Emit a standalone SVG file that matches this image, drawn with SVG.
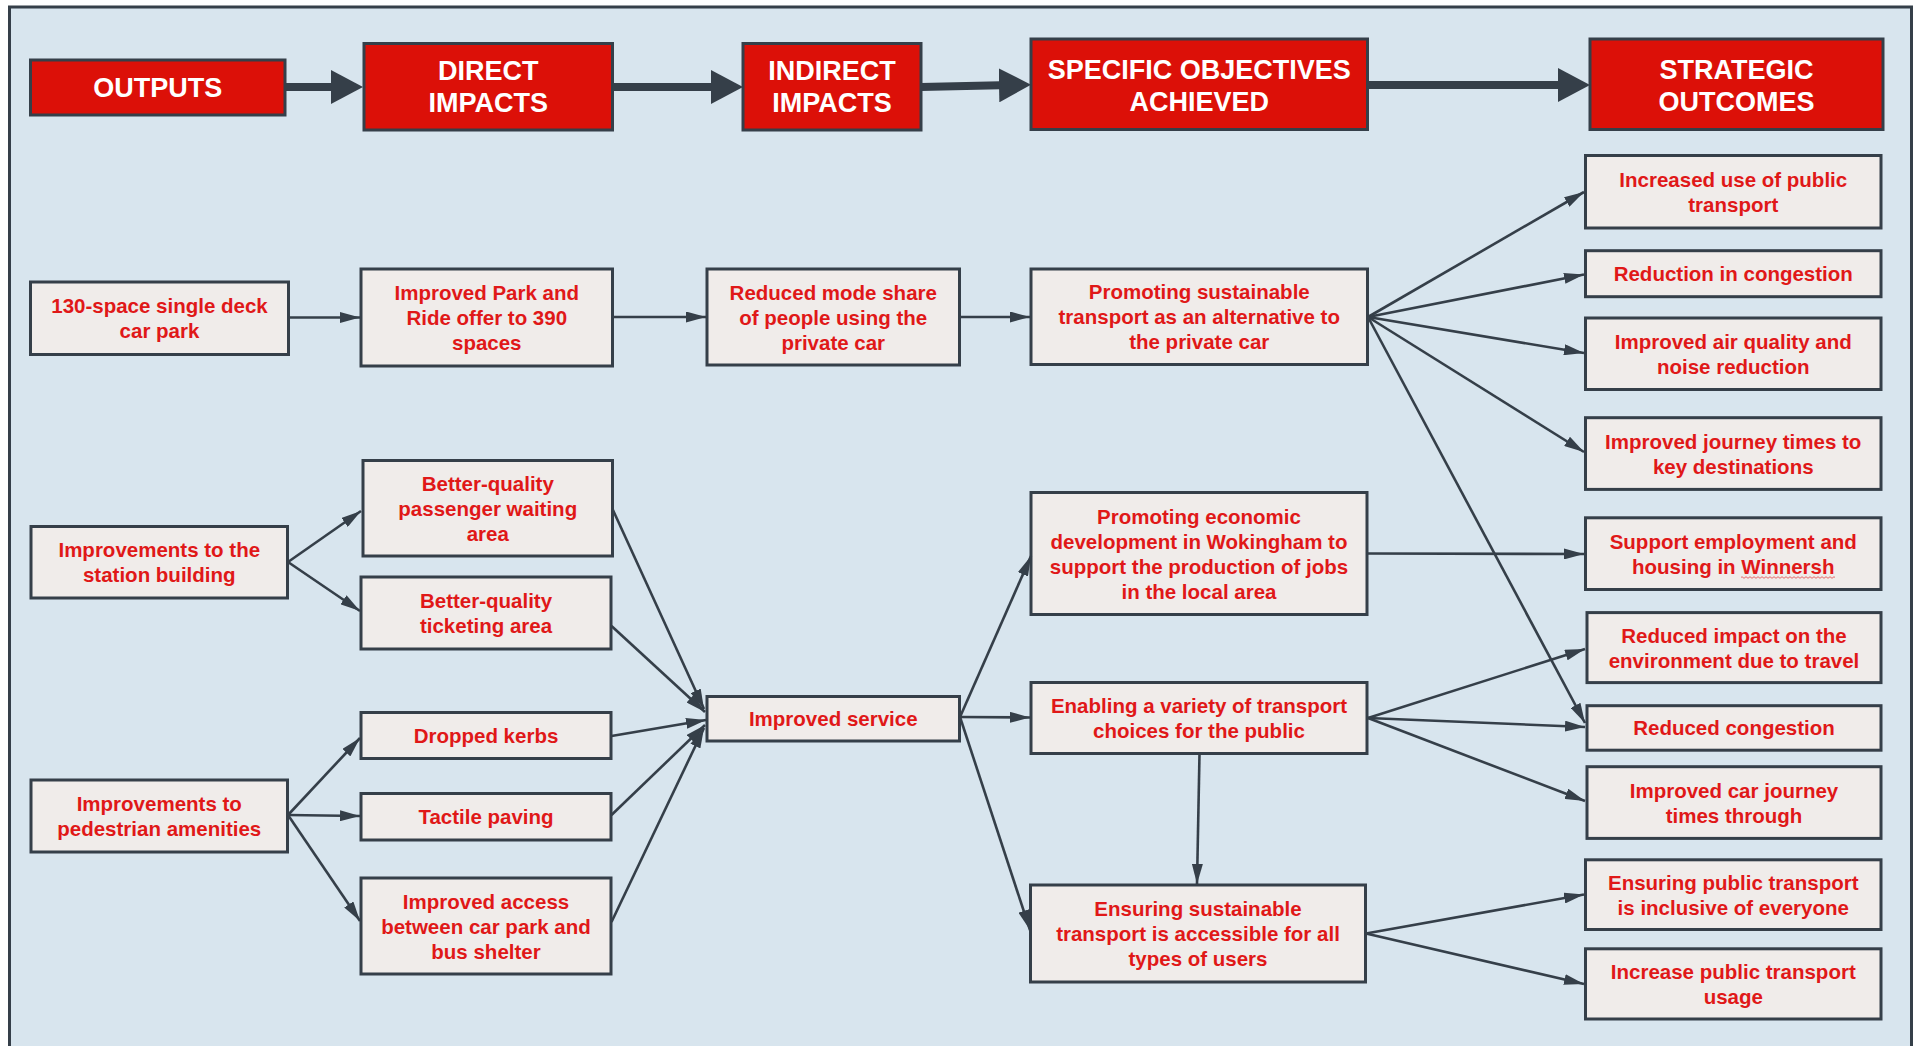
<svg xmlns="http://www.w3.org/2000/svg" width="1917" height="1046" viewBox="0 0 1917 1046">
  <style>
    .hdr rect { fill: #dc1008; stroke: #353f49; stroke-width: 3; }
    .hdr text { fill: #ffffff; font-family: "Liberation Sans", Arial, sans-serif; font-weight: bold; font-size: 27px; text-anchor: middle; }
    .node rect { fill: #f0ecea; stroke: #353f49; stroke-width: 3; }
    .node text { fill: #e01818; font-family: "Liberation Sans", Arial, sans-serif; font-weight: bold; font-size: 20.5px; text-anchor: middle; }
    .big { stroke: #353f49; stroke-width: 8; fill: none; marker-end: url(#bighead); }
    .lnk { stroke: #353f49; stroke-width: 2.6; fill: none; marker-end: url(#head); }
  </style>
  <defs>
    <marker id="head" viewBox="0 0 20 11" refX="20" refY="5.5" markerWidth="20" markerHeight="11" markerUnits="userSpaceOnUse" orient="auto">
      <path d="M0,0 L20,5.5 L0,11 Z" fill="#353f49"/>
    </marker>
    <marker id="bighead" viewBox="0 0 32 34" refX="1" refY="17" markerWidth="32" markerHeight="34" markerUnits="userSpaceOnUse" orient="auto">
      <path d="M0,0 L32,17 L0,34 Z" fill="#353f49"/>
    </marker>
  </defs>

  <!-- page -->
  <rect x="0" y="0" width="1917" height="1046" fill="#ffffff"/>
  <rect x="9.5" y="7" width="1902" height="1050" fill="#d8e5ee" stroke="#353f49" stroke-width="3"/>

  <!-- column headers -->
  <g id="hdr-outputs" class="hdr">
    <rect x="30.5" y="60" width="254.5" height="55"/>
    <text x="157.75" y="96.7">OUTPUTS</text>
  </g>
  <g id="hdr-direct" class="hdr">
    <rect x="364" y="43.5" width="248.5" height="86.5"/>
    <text x="488.25" y="80">DIRECT</text>
    <text x="488.25" y="111.7">IMPACTS</text>
  </g>
  <g id="hdr-indirect" class="hdr">
    <rect x="743" y="43.5" width="178" height="86.5"/>
    <text x="832" y="80">INDIRECT</text>
    <text x="832" y="111.7">IMPACTS</text>
  </g>
  <g id="hdr-objectives" class="hdr">
    <rect x="1031" y="39" width="336.5" height="90.5"/>
    <text x="1199.25" y="78.5">SPECIFIC OBJECTIVES</text>
    <text x="1199.25" y="110.8">ACHIEVED</text>
  </g>
  <g id="hdr-outcomes" class="hdr">
    <rect x="1590" y="39" width="293" height="90.5"/>
    <text x="1736.5" y="78.5">STRATEGIC</text>
    <text x="1736.5" y="110.8">OUTCOMES</text>
  </g>

  <!-- outputs -->
  <g id="n-carpark" class="node">
    <rect x="30.5" y="282" width="258" height="72.5"/>
    <text x="159.5" y="313.25">130-space single deck</text>
    <text x="159.5" y="338.25">car park</text>
  </g>
  <g id="n-station" class="node">
    <rect x="31" y="526.5" width="256.5" height="71.5"/>
    <text x="159.25" y="557.25">Improvements to the</text>
    <text x="159.25" y="582.25">station building</text>
  </g>
  <g id="n-pedestrian" class="node">
    <rect x="31" y="780" width="256.5" height="72"/>
    <text x="159.25" y="811">Improvements to</text>
    <text x="159.25" y="836">pedestrian amenities</text>
  </g>

  <!-- direct impacts -->
  <g id="n-parkride" class="node">
    <rect x="361" y="269" width="251.5" height="97"/>
    <text x="486.75" y="300">Improved Park and</text>
    <text x="486.75" y="325">Ride offer to 390</text>
    <text x="486.75" y="350">spaces</text>
  </g>
  <g id="n-waiting" class="node">
    <rect x="363" y="460.5" width="249.5" height="95.5"/>
    <text x="487.75" y="490.75">Better-quality</text>
    <text x="487.75" y="515.75">passenger waiting</text>
    <text x="487.75" y="540.75">area</text>
  </g>
  <g id="n-ticketing" class="node">
    <rect x="361" y="577" width="250" height="72"/>
    <text x="486" y="608">Better-quality</text>
    <text x="486" y="633">ticketing area</text>
  </g>
  <g id="n-kerbs" class="node">
    <rect x="361" y="712.5" width="250" height="46"/>
    <text x="486" y="743">Dropped kerbs</text>
  </g>
  <g id="n-tactile" class="node">
    <rect x="361" y="793.5" width="250" height="46.5"/>
    <text x="486" y="824.25">Tactile paving</text>
  </g>
  <g id="n-access" class="node">
    <rect x="361" y="878" width="250" height="96"/>
    <text x="486" y="908.5">Improved access</text>
    <text x="486" y="933.5">between car park and</text>
    <text x="486" y="958.5">bus shelter</text>
  </g>

  <!-- indirect impacts -->
  <g id="n-modeshare" class="node">
    <rect x="707" y="269" width="252.5" height="96"/>
    <text x="833.25" y="299.5">Reduced mode share</text>
    <text x="833.25" y="324.5">of people using the</text>
    <text x="833.25" y="349.5">private car</text>
  </g>
  <g id="n-service" class="node">
    <rect x="707" y="696.5" width="252.5" height="44.5"/>
    <text x="833.25" y="726.25">Improved service</text>
  </g>

  <!-- specific objectives -->
  <g id="n-sustainable" class="node">
    <rect x="1031" y="269" width="336.5" height="95.5"/>
    <text x="1199.25" y="299.25">Promoting sustainable</text>
    <text x="1199.25" y="324.25">transport as an alternative to</text>
    <text x="1199.25" y="349.25">the private car</text>
  </g>
  <g id="n-economic" class="node">
    <rect x="1031" y="492.5" width="336" height="122"/>
    <text x="1199" y="524">Promoting economic</text>
    <text x="1199" y="549">development in Wokingham to</text>
    <text x="1199" y="574">support the production of jobs</text>
    <text x="1199" y="599">in the local area</text>
  </g>
  <g id="n-choices" class="node">
    <rect x="1031" y="682.5" width="336" height="71"/>
    <text x="1199" y="713">Enabling a variety of transport</text>
    <text x="1199" y="738">choices for the public</text>
  </g>
  <g id="n-accessible" class="node">
    <rect x="1030.5" y="885" width="335" height="97"/>
    <text x="1198" y="916">Ensuring sustainable</text>
    <text x="1198" y="941">transport is accessible for all</text>
    <text x="1198" y="966">types of users</text>
  </g>

  <!-- strategic outcomes -->
  <g id="o-publicuse" class="node">
    <rect x="1585.5" y="155.5" width="295.5" height="72.5"/>
    <text x="1733.25" y="186.75">Increased use of public</text>
    <text x="1733.25" y="211.75">transport</text>
  </g>
  <g id="o-congestion1" class="node">
    <rect x="1585.5" y="250.7" width="295.5" height="46"/>
    <text x="1733.25" y="281.2">Reduction in congestion</text>
  </g>
  <g id="o-air" class="node">
    <rect x="1585.5" y="318" width="295.5" height="71.5"/>
    <text x="1733.25" y="348.75">Improved air quality and</text>
    <text x="1733.25" y="373.75">noise reduction</text>
  </g>
  <g id="o-journey" class="node">
    <rect x="1585.5" y="417.7" width="295.5" height="71.7"/>
    <text x="1733.25" y="448.55">Improved journey times to</text>
    <text x="1733.25" y="473.55">key destinations</text>
  </g>
  <g id="o-employment" class="node">
    <rect x="1585.5" y="517.8" width="295.5" height="71.7"/>
    <text x="1733.25" y="548.65">Support employment and</text>
    <text x="1733.25" y="573.65">housing in Winnersh</text>
    <path d="M1741 577.5 q1 -1.6 2 0 t2 0 t2 0 t2 0 t2 0 t2 0 t2 0 t2 0 t2 0 t2 0 t2 0 t2 0 t2 0 t2 0 t2 0 t2 0 t2 0 t2 0 t2 0 t2 0 t2 0 t2 0 t2 0 t2 0 t2 0 t2 0 t2 0 t2 0 t2 0 t2 0 t2 0 t2 0 t2 0 t2 0 t2 0 t2 0 t2 0 t2 0 t2 0 t2 0 t2 0 t2 0 t2 0 t2 0 t2 0 t2 0 t2 0" fill="none" stroke="#e56a6a" stroke-width="1"/>
  </g>
  <g id="o-environment" class="node">
    <rect x="1587" y="612.6" width="294" height="70"/>
    <text x="1734" y="642.6">Reduced impact on the</text>
    <text x="1734" y="667.6">environment due to travel</text>
  </g>
  <g id="o-congestion2" class="node">
    <rect x="1587" y="705.7" width="294" height="44.5"/>
    <text x="1734" y="735.35">Reduced congestion</text>
  </g>
  <g id="o-carjourney" class="node">
    <rect x="1587" y="766.7" width="294" height="71.7"/>
    <text x="1734" y="797.55">Improved car journey</text>
    <text x="1734" y="822.55">times through</text>
  </g>
  <g id="o-inclusive" class="node">
    <rect x="1585.5" y="859.8" width="295.5" height="69.7"/>
    <text x="1733.25" y="889.65">Ensuring public transport</text>
    <text x="1733.25" y="914.65">is inclusive of everyone</text>
  </g>
  <g id="o-usage" class="node">
    <rect x="1585.5" y="948.8" width="295.5" height="70.2"/>
    <text x="1733.25" y="978.9">Increase public transport</text>
    <text x="1733.25" y="1003.9">usage</text>
  </g>

  <!-- connectors -->
  <g id="connectors">
    <line class="big" x1="285" y1="87" x2="332" y2="87"/>
    <line class="big" x1="612.5" y1="87" x2="712" y2="87"/>
    <line class="big" x1="921" y1="87" x2="1000" y2="85.3"/>
    <line class="big" x1="1367" y1="85" x2="1559" y2="85"/>

    <line class="lnk" x1="288.5" y1="317.5" x2="360" y2="317.5"/>
    <line class="lnk" x1="612.5" y1="317" x2="706" y2="317"/>
    <line class="lnk" x1="960" y1="317" x2="1030" y2="317"/>

    <line class="lnk" x1="1368" y1="317" x2="1584" y2="192"/>
    <line class="lnk" x1="1368" y1="317" x2="1584" y2="274.5"/>
    <line class="lnk" x1="1368" y1="317" x2="1584" y2="353"/>
    <line class="lnk" x1="1368" y1="317" x2="1584" y2="452"/>
    <line class="lnk" x1="1368" y1="317" x2="1585" y2="723"/>

    <line class="lnk" x1="288" y1="562" x2="361" y2="511"/>
    <line class="lnk" x1="288" y1="562" x2="360" y2="611"/>
    <line class="lnk" x1="288" y1="815" x2="360" y2="738"/>
    <line class="lnk" x1="288" y1="815" x2="360" y2="816"/>
    <line class="lnk" x1="288" y1="815" x2="360" y2="921"/>

    <line class="lnk" x1="612.5" y1="509" x2="704" y2="709"/>
    <line class="lnk" x1="611.5" y1="626" x2="705" y2="712"/>
    <line class="lnk" x1="611.5" y1="736" x2="706" y2="720"/>
    <line class="lnk" x1="611.5" y1="815" x2="705" y2="725"/>
    <line class="lnk" x1="611.5" y1="922" x2="704" y2="728"/>

    <line class="lnk" x1="960" y1="717" x2="1031" y2="556"/>
    <line class="lnk" x1="960" y1="717" x2="1030" y2="717.5"/>
    <line class="lnk" x1="960" y1="717" x2="1030" y2="930"/>

    <line class="lnk" x1="1367" y1="553.5" x2="1584" y2="554"/>

    <line class="lnk" x1="1368" y1="718" x2="1585" y2="649"/>
    <line class="lnk" x1="1368" y1="718" x2="1585" y2="727"/>
    <line class="lnk" x1="1368" y1="718" x2="1585" y2="801"/>

    <line class="lnk" x1="1199.5" y1="754" x2="1197" y2="884"/>

    <line class="lnk" x1="1366" y1="933.5" x2="1584" y2="894.5"/>
    <line class="lnk" x1="1366" y1="933.5" x2="1584" y2="984"/>
  </g>
</svg>
